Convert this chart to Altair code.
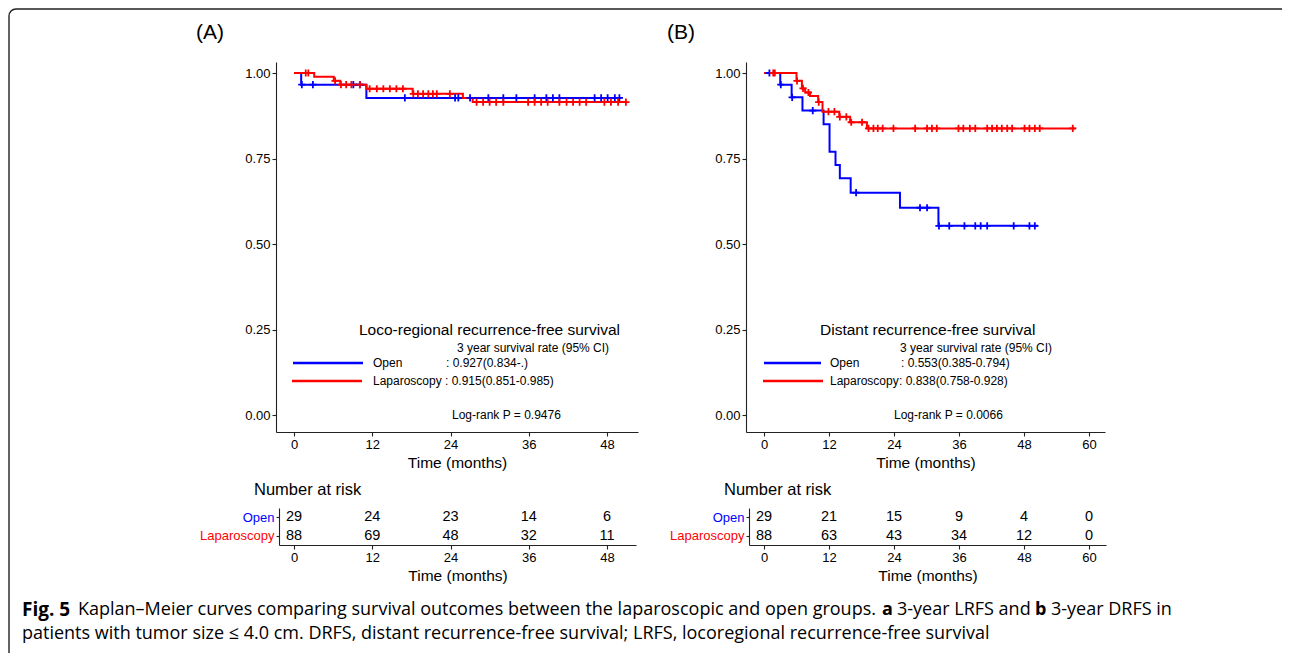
import altair as alt
import pandas as pd

# ---------------- data ----------------
# Panel A: loco-regional recurrence-free survival
a_open_t = [0, 1.1, 11.1, 50.2]
a_open_s = [1.0, 0.966, 0.927, 0.927]
a_open_cens = [1.2, 2.9, 9.1, 10.1, 17.0, 24.7, 25.2, 27.0, 29.8, 32.1, 34.1,
               36.9, 38.7, 39.7, 40.7, 46.1, 47.1, 48.1, 49.2, 49.9]
a_lap_t = [0, 3.1, 6.1, 7.1, 11.1, 18.2, 25.9, 27.4, 51.0]
a_lap_s = [1.0, 0.989, 0.977, 0.966, 0.954, 0.939, 0.927, 0.915, 0.915]
a_lap_cens = [1.8, 2.2, 6.3, 7.2, 8.0, 8.8, 10.1, 11.6, 12.7, 13.7, 14.7, 15.7,
              16.7, 18.3, 19.0, 19.8, 20.6, 21.3, 21.9, 23.9, 28.0, 29.0, 30.0,
              31.0, 32.1, 35.9, 36.9, 37.9, 38.9, 40.7, 41.8, 42.8, 43.8, 44.8,
              47.6, 48.6, 49.7, 50.9]

# Panel B: distant recurrence-free survival
b_open_t = [0, 3.0, 5.1, 7.1, 11.0, 12.1, 13.2, 14.0, 16.0, 25.1, 32.2, 50.6]
b_open_s = [1.0, 0.966, 0.929, 0.890, 0.850, 0.770, 0.731, 0.692, 0.650,
            0.606, 0.553, 0.553]
b_open_cens = [1.0, 3.1, 5.2, 9.0, 17.0, 28.8, 30.1, 32.3, 34.2, 37.0, 39.0,
               40.0, 41.2, 46.1, 49.0, 50.0]
b_lap_t = [0, 6.0, 7.0, 7.6, 8.5, 10.0, 10.8, 13.9, 15.9, 19.0, 57.5]
b_lap_s = [1.0, 0.977, 0.955, 0.943, 0.933, 0.915, 0.887, 0.872, 0.856,
           0.838, 0.838]
b_lap_cens = [1.7, 2.0, 6.1, 7.2, 8.2, 10.1, 11.9, 13.0, 14.0, 15.2, 16.1, 18.1,
              19.3, 20.2, 21.0, 21.9, 23.9, 27.9, 30.1, 31.0, 31.9, 35.9, 36.8,
              38.0, 39.0, 41.2, 42.1, 43.0, 43.9, 44.9, 45.8, 48.1, 49.0, 50.0,
              50.9, 57.0]

# Number at risk tables
groups = ["Open", "Laparoscopy"]
risk_times_a = [0, 12, 24, 36, 48]
risk_open_a = [29, 24, 23, 14, 6]
risk_lap_a = [88, 69, 48, 32, 11]
risk_times_b = [0, 12, 24, 36, 48, 60]
risk_open_b = [29, 21, 15, 9, 4, 0]
risk_lap_b = [88, 63, 43, 34, 12, 0]

y_ticks = [0, 0.25, 0.5, 0.75, 1.0]

# ---------------- layout / style ----------------
FONT = "Liberation Sans"
CAP_FONT = "Open Sans"
CAP_SIZE = 18
BLUE = "#0000ff"
RED = "#ff0000"
AX = "#222222"
W, H = 1274, 645


def lin_domain(zero_px, per_unit, lo_px, hi_px):
    return [(lo_px - zero_px) / per_unit, (hi_px - zero_px) / per_unit]


# KM vertical scale: value 0 at 407, value 1 at 65, axis 54..424
KM_Y_DOM = [-(424 - 407) / 342.0, 1 + (65 - 54) / 342.0]
KM_Y_RNG = [424, 54]

CENS_SHAPE = "M-1,0L1,0M0,-1L0,1"


def level(ts, ss, t):
    v = ss[0]
    for ti, si in zip(ts, ss):
        if ti <= t:
            v = si
    return v


def axis_common(**kw):
    base = dict(labelFont=FONT, labelFontSize=13, labelColor="black",
                titleFont=FONT, titleFontSize=15.5, titleFontWeight="normal",
                titleColor="black", domainColor=AX, tickColor=AX,
                domainWidth=1.1, tickWidth=1.1, grid=False, labelFlush=False,
                labelOverlap=False)
    base.update(kw)
    return alt.Axis(**base)


def km_panel(xdom, xrng, xticks, series):
    xaxis = axis_common(orient="bottom", offset=424 - H, values=xticks,
                        title="Time (months)", tickSize=4, labelPadding=2,
                        titlePadding=4)
    yaxis = axis_common(orient="left", offset=-xrng[0], values=y_ticks,
                        format=".2f", title=None, tickSize=4, labelPadding=2)
    layers = []
    first = True

    def enc(ch):
        nonlocal first
        xs = alt.Scale(domain=xdom, range=xrng, nice=False, zero=False)
        ys = alt.Scale(domain=KM_Y_DOM, range=KM_Y_RNG, nice=False, zero=False)
        out = ch.encode(
            x=alt.X("t:Q", scale=xs, axis=xaxis if first else None),
            y=alt.Y("s:Q", scale=ys, axis=yaxis if first else None))
        first = False
        return out

    for t, s, cens, color in series:
        df = pd.DataFrame({"t": t, "s": s})
        layers.append(enc(alt.Chart(df).mark_line(
            interpolate="step-after", color=color, strokeWidth=2)))
    for t, s, cens, color in series:
        cdf = pd.DataFrame({"t": cens, "s": [level(t, s, c) for c in cens]})
        layers.append(enc(alt.Chart(cdf).mark_point(
            shape=CENS_SHAPE, size=52, filled=False, color=color,
            strokeWidth=1.8, opacity=1)))
    return layers


def risk_panel(xdom, xrng, xticks, times, n_open, n_lap):
    xs = alt.Scale(domain=xdom, range=xrng, nice=False, zero=False)
    ys = alt.Scale(type="point", domain=groups, range=[500, 537],
                   padding=0.4737)
    df = pd.DataFrame({
        "t": list(times) + list(times),
        "g": [groups[0]] * len(times) + [groups[1]] * len(times),
        "n": list(n_open) + list(n_lap),
    })
    xaxis = axis_common(orient="bottom", offset=537 - H, values=xticks,
                        title="Time (months)", tickSize=4, labelPadding=2,
                        titlePadding=4)
    yaxis = axis_common(orient="left", offset=-xrng[0], title=None,
                        tickSize=3, labelPadding=2,
                        labelColor={"condition": {"test": "datum.value === 'Open'",
                                                  "value": BLUE},
                                    "value": RED})
    return alt.Chart(df).mark_text(font=FONT, fontSize=14.5, color="black",
                                   baseline="middle", align="center").encode(
        x=alt.X("t:Q", scale=xs, axis=xaxis),
        y=alt.Y("g:N", scale=ys, axis=yaxis),
        text="n:Q")


def txt(s, x, y, size, align="left", weight="normal", color="black", font=FONT):
    return alt.Chart(pd.DataFrame({"s": [s]})).mark_text(
        align=align, baseline="middle", fontSize=size, fontWeight=weight,
        color=color, font=font).encode(text="s:N", x=alt.value(x), y=alt.value(y))


def key_line(x1, x2, y, color):
    return alt.Chart(pd.DataFrame({"a": [0]})).mark_rule(
        color=color, strokeWidth=2.6).encode(
        x=alt.value(x1), x2=alt.value(x2), y=alt.value(y))


# panel A geometry (month 0 at 286, 6.521 px / month)
kmA = km_panel(lin_domain(286, 6.521, 268, 630), [268, 630], risk_times_a,
               [(a_open_t, a_open_s, a_open_cens, BLUE),
                (a_lap_t, a_lap_s, a_lap_cens, RED)])
# panel B geometry (month 0 at 756, 5.417 px / month)
kmB = km_panel(lin_domain(756, 5.417, 738, 1097), [738, 1097], risk_times_b,
               [(b_open_t, b_open_s, b_open_cens, BLUE),
                (b_lap_t, b_lap_s, b_lap_cens, RED)])

riskA = risk_panel(lin_domain(286, 6.521, 271, 628), [271, 628], risk_times_a,
                   risk_times_a, risk_open_a, risk_lap_a)
riskB = risk_panel(lin_domain(756, 5.417, 741, 1098), [741, 1098], risk_times_b,
                   risk_times_b, risk_open_b, risk_lap_b)

frame = alt.Chart(pd.DataFrame({"a": [0]})).mark_rect(
    filled=False, stroke="#222222", strokeWidth=1.4, cornerRadius=7).encode(
    x=alt.value(1), x2=alt.value(W + 40), y=alt.value(1), y2=alt.value(H + 40))

annotations = [
    txt("(A)", 188, 25, 21),
    txt("(B)", 659, 25, 21),
    # legend A
    txt("Loco-regional recurrence-free survival", 351, 322, 15.5),
    txt("3 year survival rate (95% CI)", 449, 340, 12),
    key_line(285, 355, 355, BLUE),
    key_line(284, 354, 373, RED),
    txt("Open", 365, 355, 12),
    txt(": 0.927(0.834-.)", 438, 355, 12),
    txt("Laparoscopy", 365, 373, 12),
    txt(": 0.915(0.851-0.985)", 437, 373, 12),
    txt("Log-rank P = 0.9476", 444, 407, 12),
    # legend B
    txt("Distant recurrence-free survival", 812, 322, 15.5),
    txt("3 year survival rate (95% CI)", 892, 340, 12),
    key_line(756, 813, 355, BLUE),
    key_line(755, 815, 373, RED),
    txt("Open", 822, 355, 12),
    txt(": 0.553(0.385-0.794)", 893, 355, 12),
    txt("Laparoscopy", 822, 373, 12),
    txt(": 0.838(0.758-0.928)", 891, 373, 12),
    txt("Log-rank P = 0.0066", 886, 407, 12),
    # number at risk headers
    txt("Number at risk", 246, 482, 16.5),
    txt("Number at risk", 716, 482, 16.5),
    # caption
    txt("Fig. 5", 14, 602, 19, weight="bold", font=CAP_FONT),
    txt("Kaplan–Meier curves comparing survival outcomes between the laparoscopic and open groups.",
        70, 602, CAP_SIZE, font=CAP_FONT),
    txt("a", 874, 602, CAP_SIZE, weight="bold", font=CAP_FONT),
    txt("3-year LRFS and", 889, 602, CAP_SIZE, font=CAP_FONT),
    txt("b", 1027, 602, CAP_SIZE, weight="bold", font=CAP_FONT),
    txt("3-year DRFS in", 1043, 602, CAP_SIZE, font=CAP_FONT),
    txt("patients with tumor size ≤ 4.0 cm. DRFS, distant recurrence-free survival; "
        "LRFS, locoregional recurrence-free survival", 14, 626, CAP_SIZE,
        font=CAP_FONT),
]

chart = alt.layer(frame, *kmA, *kmB, riskA, riskB, *annotations).resolve_scale(
    x="independent", y="independent").resolve_axis(
    x="independent", y="independent").properties(
    width=W, height=H, padding=0,
    autosize=alt.AutoSizeParams(type="none"),
    background="white").configure_view(stroke=None)

chart.save("out.html", embed_options={"renderer": "svg", "actions": False})
